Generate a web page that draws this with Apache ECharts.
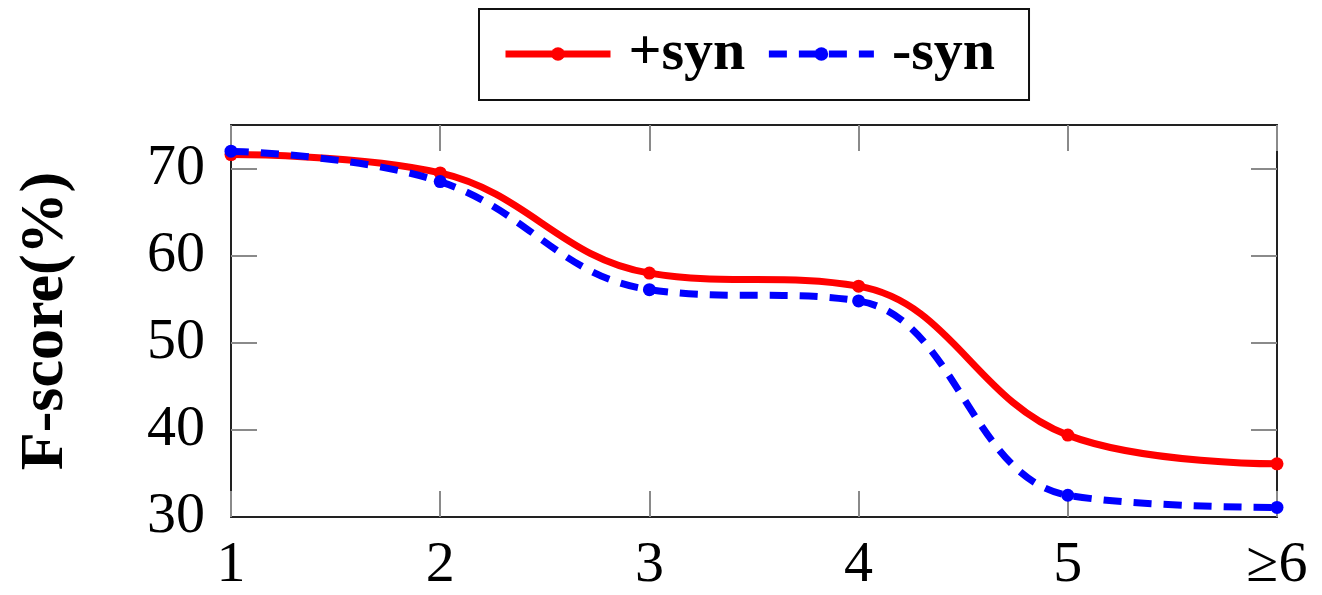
<!DOCTYPE html>
<html>
<head>
<meta charset="utf-8">
<script src="https://cdn.jsdelivr.net/npm/echarts@6/dist/echarts.min.js"></script>
<style>
  html, body { margin: 0; padding: 0; background: #fff; }
  #chart { width: 1322px; height: 595px; }
</style>
</head>
<body>
<div id="chart"></div>
<script>
// Window sizes (x axis) and F-score per setting
const categories = ['1', '2', '3', '4', '5', '\u22656'];
const withSyn = [71.6, 69.5, 58.0, 56.5, 39.4, 36.1];
const withoutSyn = [72.0, 68.5, 56.1, 54.8, 32.5, 31.1];
const yTicks = [30, 40, 50, 60, 70];
const innerTicks = [40, 50, 60, 70];

const serif = '"Liberation Serif", "DejaVu Serif", serif';
const tickStyle = { color: '#8a8a8a', width: 2 };
const frameLine = { show: true, lineStyle: { color: '#222', width: 2 } };

const chart = echarts.init(document.getElementById('chart'));
chart.setOption({
  animation: false,
  backgroundColor: '#fff',
  legend: {
    left: 479,
    top: 9,
    padding: [16, 34, 17, 23],
    borderColor: '#111',
    borderWidth: 2,
    itemWidth: 105,
    itemHeight: 17,
    itemGap: 20,
    lineStyle: { width: 7 },
    textStyle: {
      fontFamily: serif,
      fontWeight: 'bold',
      fontSize: 58,
      color: '#000',
      padding: [0, 0, 0, 13]
    },
    data: ['+syn', '-syn']
  },
  grid: { left: 231, right: 45, top: 125, bottom: 78, containLabel: false },
  xAxis: [
    {
      type: 'category',
      data: categories,
      boundaryGap: false,
      axisLine: frameLine,
      axisTick: { show: true, inside: true, length: 26, lineStyle: tickStyle, interval: 0 },
      axisLabel: { fontFamily: serif, fontSize: 58, color: '#000', margin: 20 },
      splitLine: { show: false }
    },
    {
      type: 'category',
      data: categories,
      position: 'top',
      boundaryGap: false,
      axisLine: frameLine,
      axisTick: { show: true, inside: true, length: 26, lineStyle: tickStyle, interval: 0 },
      axisLabel: { show: false },
      splitLine: { show: false }
    }
  ],
  yAxis: [
    {
      type: 'value',
      min: 30,
      max: 75,
      interval: 10,
      name: 'F-score(%)',
      nameLocation: 'middle',
      nameGap: 154,
      nameRotate: 90,
      nameTextStyle: { fontFamily: serif, fontWeight: 'bold', fontSize: 62, color: '#000' },
      axisLine: frameLine,
      axisTick: { show: true, inside: true, length: 26, lineStyle: tickStyle, customValues: innerTicks },
      axisLabel: { fontFamily: serif, fontSize: 58, color: '#000', margin: 26, customValues: yTicks },
      splitLine: { show: false }
    },
    {
      type: 'value',
      min: 30,
      max: 75,
      interval: 10,
      position: 'right',
      axisLine: frameLine,
      axisTick: { show: true, inside: true, length: 26, lineStyle: tickStyle, customValues: innerTicks },
      axisLabel: { show: false },
      splitLine: { show: false }
    }
  ],
  series: [
    {
      name: '+syn',
      type: 'line',
      data: withSyn,
      smooth: 0.4,
      symbol: 'circle',
      symbolSize: 13,
      color: '#ff0000',
      lineStyle: { color: '#ff0000', width: 7 },
      itemStyle: { color: '#ff0000' },
      z: 3
    },
    {
      name: '-syn',
      type: 'line',
      data: withoutSyn,
      smooth: 0.4,
      symbol: 'circle',
      symbolSize: 13,
      color: '#0000ff',
      lineStyle: { color: '#0000ff', width: 7, type: [18, 12] },
      itemStyle: { color: '#0000ff' },
      z: 4
    }
  ]
});
</script>
</body>
</html>
